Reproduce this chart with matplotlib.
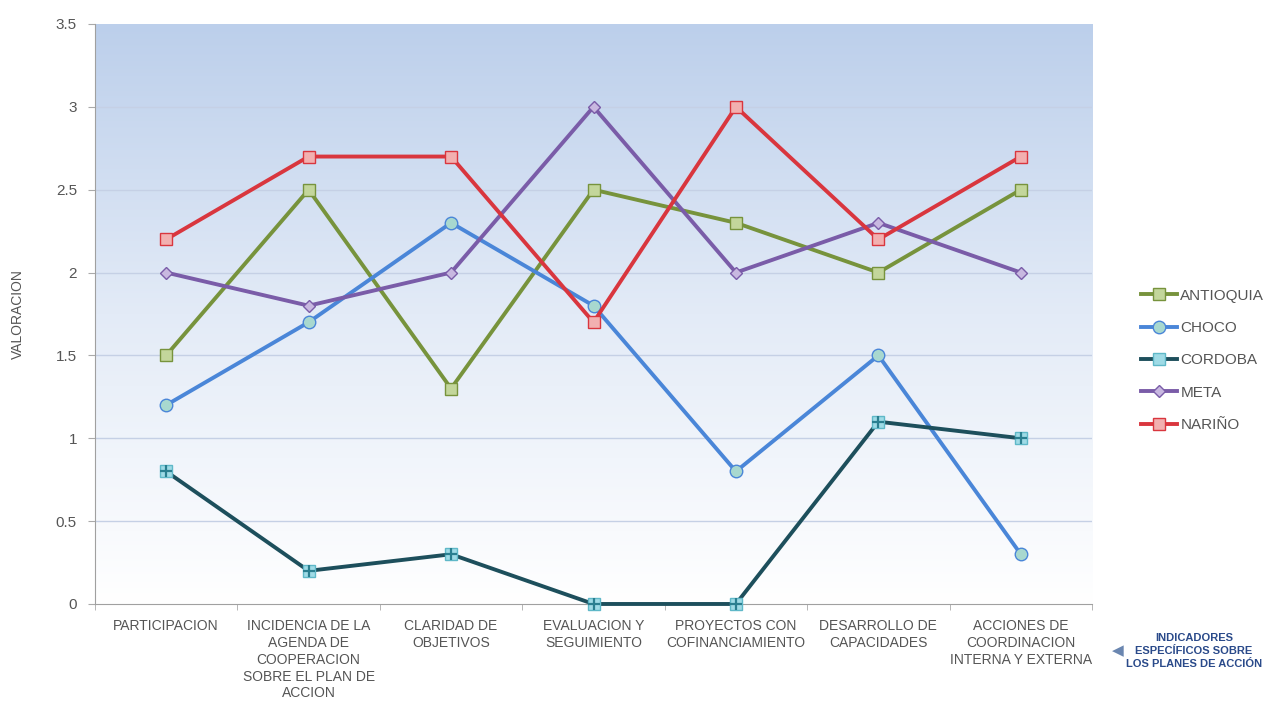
import matplotlib
matplotlib.use("Agg")
import matplotlib.pyplot as plt
import numpy as np
from matplotlib.colors import LinearSegmentedColormap
from matplotlib.ticker import FixedLocator

categories = [
    "PARTICIPACION",
    "INCIDENCIA DE LA\nAGENDA DE\nCOOPERACION\nSOBRE EL PLAN DE\nACCION",
    "CLARIDAD DE\nOBJETIVOS",
    "EVALUACION Y\nSEGUIMIENTO",
    "PROYECTOS CON\nCOFINANCIAMIENTO",
    "DESARROLLO DE\nCAPACIDADES",
    "ACCIONES DE\nCOORDINACION\nINTERNA Y EXTERNA",
]
antioquia = [1.5, 2.5, 1.3, 2.5, 2.3, 2.0, 2.5]
choco = [1.2, 1.7, 2.3, 1.8, 0.8, 1.5, 0.3]
cordoba = [0.8, 0.2, 0.3, 0.0, 0.0, 1.1, 1.0]
meta = [2.0, 1.8, 2.0, 3.0, 2.0, 2.3, 2.0]
narino = [2.2, 2.7, 2.7, 1.7, 3.0, 2.2, 2.7]
yticks = [0, 0.5, 1, 1.5, 2, 2.5, 3, 3.5]
yticklabels = ["0", "0.5", "1", "1.5", "2", "2.5", "3", "3.5"]

plt.rcParams["font.family"] = ["Liberation Sans", "DejaVu Sans"]

fig = plt.figure(figsize=(12.66, 7.01), dpi=100)
ax = fig.add_axes([0.075, 0.1384, 0.7876, 0.8274])

x = np.arange(len(categories))
ax.set_xlim(-0.5, len(categories) - 0.5)
ax.set_ylim(0, 3.5)

# gradient background
cmap = LinearSegmentedColormap.from_list("bg", ["#ffffff", "#e3ebf7", "#bccfeb"])
grad = np.linspace(0, 1, 256).reshape(-1, 1)
ax.imshow(grad, extent=[-0.5, len(categories) - 0.5, 0, 3.5], origin="lower",
          aspect="auto", cmap=cmap, zorder=0)

for yv in yticks[1:-1]:
    ax.axhline(yv, color="#c5d0e5", lw=1.0, zorder=1)

series = [
    ("ANTIOQUIA", antioquia, "#77933c", "s", "#c3d69b", 9),
    ("CHOCO", choco, "#4a86d8", "o", "#a8d8cf", 9),
    ("CORDOBA", cordoba, "#1d4f5c", "s", "#9fdbe6", 9),
    ("META", meta, "#7a5ca8", "D", "#c8b8e0", 6),
    ("NARIÑO", narino, "#d9363e", "s", "#f2b0b0", 9),
]
for name, vals, col, mk, face, ms in series:
    ax.plot(x, vals, color=col, lw=2.8, marker=mk, markersize=ms,
            markerfacecolor=face, markeredgecolor=col if name != "CORDOBA" else "#5fb8c8",
            markeredgewidth=1.0, label=name, zorder=3, clip_on=False)
    if name == "CORDOBA":
        ax.plot(x, vals, ls="none", marker="+", markersize=9, markeredgewidth=1.6,
                color="#2a7f90", zorder=4, clip_on=False)

ax.set_yticks(yticks)
ax.set_yticklabels(yticklabels)
ax.set_xticks(x)
ax.set_xticklabels(categories, fontsize=10, color="#555555", linespacing=1.25, va="top")
ax.xaxis.set_minor_locator(FixedLocator(np.arange(-0.5, len(categories), 1.0)))
ax.tick_params(axis="x", which="major", length=0, pad=11)
ax.tick_params(axis="x", which="minor", length=4, color="#aaaaaa")
ax.tick_params(axis="y", length=5, color="#aaaaaa", labelsize=11, labelcolor="#555555", pad=8)

for s in ["top", "right"]:
    ax.spines[s].set_visible(False)
for s in ["left", "bottom"]:
    ax.spines[s].set_color("#a0a0a0")

ax.set_ylabel("VALORACION", fontsize=10, color="#555555", labelpad=22)

ax.legend(loc="center left", bbox_to_anchor=(1.035, 0.42), frameon=False,
          fontsize=11, labelcolor="#555555", handlelength=2.4, labelspacing=1.2,
          handletextpad=0.2)

fig.text(0.883, 0.071, "\u25C0", fontsize=11, color="#6a86b0", ha="center", va="center")
fig.text(0.943, 0.071, "INDICADORES\nESPECÍFICOS SOBRE\nLOS PLANES DE ACCIÓN",
         fontsize=8, color="#2a4a8a", fontweight="bold", ha="center", va="center",
         linespacing=1.35)

fig.savefig("out.png", dpi=100)
